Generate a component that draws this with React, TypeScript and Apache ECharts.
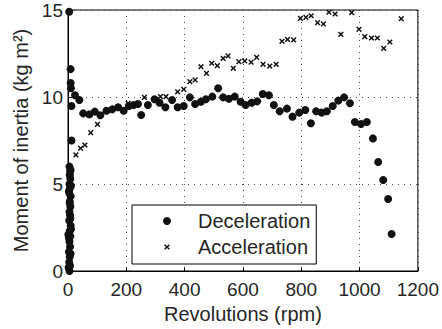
import React, { useEffect, useRef } from "react";
import * as echarts from "echarts";

// Deceleration (rpm, kg m^2)
const decelerationLowSpeed: [number, number][] = [
  [2, 0.2], [4, 0.5], [6, 0.8], [3, 1.1], [7, 1.4], [5, 1.7], [8, 2.0], [1, 2.1],
  [6, 2.3], [9, 2.6], [4, 2.9], [7, 3.2], [5, 3.4], [8, 3.7], [6, 4.0], [9, 4.3],
  [4, 4.5], [7, 4.8], [5, 5.0], [8, 5.3], [6, 5.5], [9, 5.8], [5, 6.0], [7, 0.3],
  [9, 1.0], [3, 1.9], [8, 3.0], [6, 3.9], [3, 4.6], [7, 5.7], [10, 4.9], [10, 2.4],
  [5, 0.0], [12, 7.5],
];
const decelerationRpm = [
  4, 9, 9, 10, 24, 39, 12, 52, 73, 92, 111, 132, 152, 172, 191, 209, 225, 240, 251,
  274, 297, 314, 334, 357, 376, 397, 418, 436, 456, 473, 495, 515, 532, 552, 572,
  592, 609, 630, 649, 668, 689, 706, 726, 751, 770, 793, 814, 833, 851, 870, 888,
  908, 927, 947, 967, 984, 1005, 1025, 1046, 1064, 1081, 1098, 1110,
];
const decelerationInertia = [
  14.9, 11.6, 10.8, 10.5, 10.1, 9.83, 9.48, 9.06, 9.0, 9.16, 8.95, 9.21, 9.29, 9.41,
  9.21, 9.48, 9.54, 9.6, 8.97, 9.54, 9.87, 9.67, 9.41, 9.83, 9.41, 9.48, 9.98, 9.6,
  9.73, 9.87, 10.02, 10.5, 9.98, 9.9, 10.02, 9.73, 9.54, 9.67, 9.75, 10.17, 10.1,
  9.54, 9.18, 9.33, 8.87, 9.1, 9.25, 8.49, 9.18, 9.1, 9.18, 9.48, 9.79, 9.98, 9.64,
  8.56, 8.45, 8.56, 7.62, 6.26, 5.23, 4.14, 2.13,
];

// Acceleration (rpm, kg m^2)
const accelerationRpm = [
  27, 43, 58, 78, 101, 206, 262, 317, 336, 376, 397, 418, 436, 456, 475, 493, 512,
  532, 549, 567, 586, 606, 628, 647, 669, 692, 714, 734, 753, 774, 797, 816, 834,
  856, 876, 895, 916, 936, 973, 998, 1018, 1041, 1061, 1083, 1104, 1143,
];
const accelerationInertia = [
  6.67, 7.05, 7.24, 7.95, 8.43, 9.64, 9.98, 10.02, 10.02, 10.3, 10.44, 10.88, 10.98,
  11.74, 11.36, 11.94, 11.8, 12.22, 12.36, 11.65, 12.03, 12.07, 12.0, 12.28, 11.88,
  11.78, 11.88, 13.2, 13.31, 13.28, 14.52, 14.58, 14.67, 14.27, 14.2, 14.87, 14.77,
  13.6, 14.85, 13.89, 13.47, 13.39, 13.39, 12.8, 13.16, 14.5,
];

const xTicks = { min: 0, max: 1200, interval: 200 };
const yTicks = { min: 0, max: 15, interval: 5 };

const X_SYMBOL =
  "path://M-2,-2M12,12M0,1.8L1.8,0L5,3.2L8.2,0L10,1.8L6.8,5L10,8.2L8.2,10L5,6.8L1.8,10L0,8.2L3.2,5Z";

const FONT = "'Liberation Sans', Arial, Helvetica, sans-serif";
const TEXT = "#262626";

export default function App() {
  const ref = useRef<HTMLDivElement>(null);
  useEffect(() => {
    document.body.style.margin = "0";
    if (!ref.current) return;
    const chart = echarts.init(ref.current, null, { renderer: "svg" });
    const decel = [
      ...decelerationLowSpeed,
      ...decelerationRpm.map((r, i) => [r, decelerationInertia[i]]),
    ];
    const accel = accelerationRpm.map((r, i) => [r, accelerationInertia[i]]);
    chart.setOption({
      animation: false,
      grid: {
        left: 68,
        right: 22,
        top: 10,
        bottom: 58,
        show: true,
        borderColor: "#000",
        borderWidth: 1,
        backgroundColor: "transparent",
      },
      legend: {
        left: 132,
        top: 205,
        orient: "vertical",
        backgroundColor: "#fff",
        borderColor: "#000",
        borderWidth: 1,
        borderRadius: 0,
        padding: [6, 6, 7, 31],
        itemWidth: 52,
        itemHeight: 8,
        itemGap: 6,
        textStyle: { fontFamily: FONT, fontSize: 20, color: TEXT, lineHeight: 20 },
        data: [
          { name: "Deceleration", icon: "circle" },
          { name: "Acceleration", icon: X_SYMBOL },
        ],
      },
      xAxis: {
        type: "value",
        min: xTicks.min,
        max: xTicks.max,
        interval: xTicks.interval,
        name: "Revolutions (rpm)",
        nameLocation: "middle",
        nameGap: 28,
        nameTextStyle: { fontFamily: FONT, fontSize: 20, color: TEXT },
        axisLine: { show: true, lineStyle: { color: "#000", width: 1 } },
        axisTick: { show: true, inside: true, length: 4, lineStyle: { color: "#000" } },
        axisLabel: {
          fontFamily: FONT,
          fontSize: 19,
          color: TEXT,
          margin: 9,
          formatter: (v: number) => String(v),
        },
        splitLine: { show: true, lineStyle: { color: "#444", type: [1, 5], width: 1 } },
      },
      yAxis: {
        type: "value",
        min: yTicks.min,
        max: yTicks.max,
        interval: yTicks.interval,
        name: "Moment of inertia (kg m²)",
        nameLocation: "middle",
        nameGap: 31,
        nameTextStyle: { fontFamily: FONT, fontSize: 20, color: TEXT },
        axisLine: { show: true, lineStyle: { color: "#000", width: 1 } },
        axisTick: { show: true, inside: true, length: 4, lineStyle: { color: "#000" } },
        axisLabel: {
          fontFamily: FONT,
          fontSize: 19,
          color: TEXT,
          margin: 5,
          formatter: (v: number) => String(v),
        },
        splitLine: { show: true, lineStyle: { color: "#444", type: [1, 5], width: 1 } },
      },
      series: [
        {
          name: "Deceleration",
          type: "scatter",
          data: decel,
          symbol: "circle",
          symbolSize: 8,
          itemStyle: { color: "#111", opacity: 1 },
          clip: false,
          z: 3,
        },
        {
          name: "Acceleration",
          type: "scatter",
          data: accel,
          symbol: X_SYMBOL,
          symbolSize: 8,
          itemStyle: { color: "#111", opacity: 1 },
          z: 2,
        },
      ],
    });
    return () => chart.dispose();
  }, []);
  return <div ref={ref} style={{ width: 442, height: 329 }} />;
}
